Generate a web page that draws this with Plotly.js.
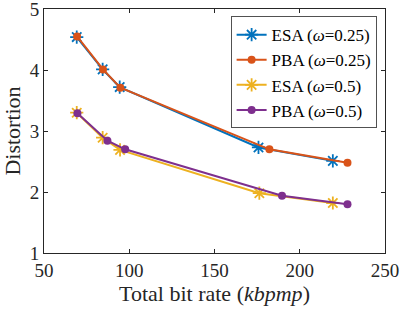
<!DOCTYPE html>
<html><head><meta charset="utf-8">
<script src="https://cdn.plot.ly/plotly-3.0.1.min.js"></script>
<style>html,body{margin:0;padding:0;background:#fff}#chart{width:403px;height:313px}</style>
</head><body><div id="chart"></div>
<script>
const seriesNames = ['ESA (<i>ω</i>=0.25)', 'PBA (<i>ω</i>=0.25)', 'ESA (<i>ω</i>=0.5)', 'PBA (<i>ω</i>=0.5)'];
const esa025X = [69.2, 84.4, 94.4, 175.8, 219.4];
const esa025Y = [4.54, 4.01, 3.72, 2.73, 2.51];
const pba025X = [69.4, 84.6, 94.8, 182.2, 228.0];
const pba025Y = [4.55, 4.01, 3.71, 2.70, 2.48];
const esa05X = [69.2, 84.4, 94.6, 176.3, 219.4];
const esa05Y = [3.30, 2.89, 2.69, 1.98, 1.82];
const pba05X = [69.6, 87.2, 97.6, 189.6, 228.0];
const pba05Y = [3.29, 2.84, 2.70, 1.94, 1.80];
const xTicks = [50, 100, 150, 200, 250];
const yTicks = [1, 2, 3, 4, 5];
const colors = ['#0072BD', '#D95319', '#EDB120', '#7E2F8E'];

const font = '"Liberation Serif", "Times New Roman", serif';
function star(x, y, name, c) {
  return {x, y, name, type: 'scatter', mode: 'lines+markers',
    line: {color: c, width: 2},
    marker: {symbol: 'asterisk-open', size: 11, color: c, line: {color: c, width: 1.8}}};
}
function dot(x, y, name, c) {
  return {x, y, name, type: 'scatter', mode: 'lines+markers',
    line: {color: c, width: 2},
    marker: {symbol: 'circle', size: 8, color: c, line: {width: 0}}};
}
const data = [
  star(esa025X, esa025Y, seriesNames[0], colors[0]),
  dot(pba025X, pba025Y, seriesNames[1], colors[1]),
  star(esa05X, esa05Y, seriesNames[2], colors[2]),
  dot(pba05X, pba05Y, seriesNames[3], colors[3])
];
const axisCommon = {
  showgrid: false, zeroline: false, showline: true, mirror: 'ticks',
  linecolor: '#262626', linewidth: 1, ticks: 'inside', ticklen: 4,
  tickcolor: '#262626', ticklabeloverflow: 'allow',
  tickfont: {family: font, size: 19, color: '#262626'}
};
const layout = {
  width: 403, height: 313,
  margin: {l: 44, r: 18, t: 9, b: 60},
  paper_bgcolor: '#fff', plot_bgcolor: '#fff',
  font: {family: font, color: '#262626'},
  showlegend: true,
  legend: {x: 0.976, xanchor: 'right', y: 0.97, yanchor: 'top',
    bgcolor: '#fff', bordercolor: '#262626', borderwidth: 0.8,
    font: {family: font, size: 17, color: '#000'}, tracegroupgap: 0},
  xaxis: Object.assign({}, axisCommon, {range: [50, 250], tickvals: xTicks,
    title: {text: 'Total bit rate (<i>kbpmp</i>)', font: {family: font, size: 22, color: '#262626'}, standoff: 2}}),
  yaxis: Object.assign({}, axisCommon, {range: [1, 5], tickvals: yTicks,
    title: {text: 'Distortion', font: {family: font, size: 22, color: '#262626'}, standoff: 8}})
};
Plotly.newPlot('chart', data, layout, {displayModeBar: false, staticPlot: true});
</script></body></html>
